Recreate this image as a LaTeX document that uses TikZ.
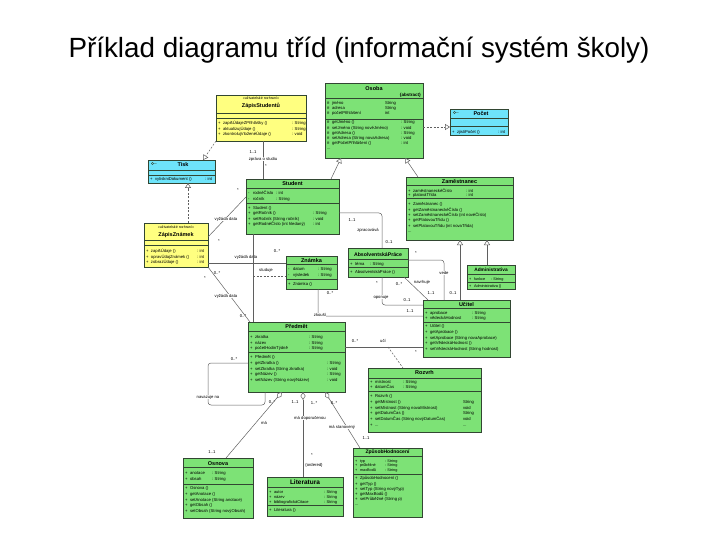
\documentclass[tikz,border=0pt]{standalone}
\usepackage{fontspec}
\setmainfont{Liberation Sans}
\usetikzlibrary{arrows.meta}
\definecolor{ugreen}{RGB}{125,226,118}
\definecolor{uyellow}{RGB}{255,255,128}
\definecolor{ucyan}{RGB}{110,228,250}
\definecolor{uborder}{RGB}{50,70,50}
\definecolor{uline}{RGB}{95,95,95}
\newcommand\umlbox[6]{\node[#2, minimum width={#5-#3}, minimum height={#6-#4}] (#1) at (#3,#4) {};}
\newcommand\hsep[2]{\draw[sepl] (#1.west |- 0,#2) -- (#1.east |- 0,#2);}
\newcommand\tc[3]{\makebox[#1pt][l]{#2}#3}
\newcommand\mk[1]{\makebox[5pt][l]{#1}}
\newcommand\fs{\rule{0pt}{3.9pt}}
\tikzset{
  cls/.style={draw=uborder, line width=0.7pt, anchor=north west, inner sep=0pt, outer sep=0pt},
  gcls/.style={cls, fill=ugreen},
  ycls/.style={cls, fill=uyellow},
  ccls/.style={cls, fill=ucyan},
  sepl/.style={draw=uborder, line width=0.5pt},
  ttl/.style={font=\fontsize{5.5}{6}\selectfont\bfseries, inner sep=0pt},
  stereo/.style={font=\fontsize{3.6}{4}\selectfont, inner sep=0pt},
  txt/.style={inner sep=0pt, outer sep=0pt, anchor=north west, align=left, font=\fontsize{4.2}{#1}\selectfont},
  txt/.default=5.5,
  lbl/.style={font=\fontsize{4.2}{4.5}\selectfont, inner sep=0.4pt},
  lblw/.style={lbl, fill=white},
  assoc/.style={draw=uline, line width=0.5pt, rounded corners=3pt},
  dsh/.style={dash pattern=on 2pt off 1.5pt},
  gen/.style={assoc, -{Triangle[fill=white, length=5pt, width=6pt]}},
  realz/.style={gen, dsh},
  agg/.style={assoc, {Diamond[fill=white, length=8pt, width=5pt]}-},
}
\begin{document}
\begin{tikzpicture}[x=1pt, y=-1pt]
\useasboundingbox (0,0) rectangle (720,540);
\node[font=\fontsize{27.8}{32}\selectfont, anchor=base, inner sep=0pt] (title) at (359,58) {Příklad diagramu tříd (informační systém školy)};

% ---------- ZapisStudentu
\umlbox{zs}{ycls}{216}{95}{306}{141}
\node[stereo] (zs-s) at (261,98.5) {<<uživatelské rozhraní>>};
\node[ttl] (zs-t) at (261,106) {ZápisStudentů};
\hsep{zs}{113}\hsep{zs}{118}
\node[txt=5.5] (zs-m) at (218,121) {\fs\tc{74}{\mk{+}zapišÚdajeZPřihlášky ()}{: String}\\\tc{74}{\mk{+}aktualizujÚdaje ()}{: String}\\\tc{74}{\mk{+}zkontrolujVloženéÚdaje ()}{: void}};

% ---------- Osoba
\umlbox{osoba}{gcls}{325}{83}{423}{158}
\node[ttl] (os-t) at (374,88.5) {Osoba};
\node[ttl, anchor=east, font=\fontsize{4.5}{5}\selectfont\bfseries] (os-ab) at (421,95) {\{abstract\}};
\hsep{osoba}{98.5}\hsep{osoba}{119}
\node[txt=5] (os-a) at (327,100.7) {\fs\tc{58}{\mk{\#}jméno}{String}\\\tc{58}{\mk{\#}adresa}{String}\\\tc{58}{\mk{\#}početPřihlášení}{int}};
\node[txt=5.2] (os-m) at (327,120) {\fs\tc{74}{\mk{\#}getJméno ()}{: String}\\\tc{74}{\mk{\#}setJméno (String novéJméno)}{: void}\\\tc{74}{\mk{\#}getAdresa ()}{: String}\\\tc{74}{\mk{\#}setAdresa (String novaAdresa)}{: void}\\\tc{74}{\mk{\#}getPočetPřihlášení ()}{: int}\\...};

% ---------- Pocet
\umlbox{pocet}{ccls}{450}{109}{508}{135.5}
\draw[uborder, line width=0.4pt] (454.5,112.5) circle (1.2) (455.7,112.5) -- (458.5,112.5);
\node[ttl] (pc-t) at (481,113) {Počet};
\hsep{pocet}{118.3}\hsep{pocet}{126.7}
\node[txt] (pc-m) at (452,129.4) {\fs\tc{46}{\mk{+}zjistiPočet ()}{: int}};

% ---------- Tisk
\umlbox{tisk}{ccls}{148}{160}{215}{183}
\draw[uborder, line width=0.4pt] (152.5,163.5) circle (1.2) (153.7,163.5) -- (156.5,163.5);
\node[ttl] (ts-t) at (183,165) {Tisk};
\hsep{tisk}{170.5}\hsep{tisk}{175}
\node[txt] (ts-m) at (150,176.7) {\fs\tc{55}{\mk{+}vytiskniDokument ()}{: int}};

% ---------- Student
\umlbox{student}{gcls}{246}{179}{339}{234}
\node[ttl] (st-t) at (292.5,184) {Student};
\hsep{student}{188.5}\hsep{student}{203}
\node[txt=5.7] (st-a) at (248,191) {\fs\tc{28}{\mk{-}rodnéČíslo}{: int}\\\tc{28}{\mk{-}ročník}{: String}};
\node[txt=5.5] (st-m) at (248,205.4) {\fs\mk{+}Student ()\\\tc{65}{\mk{+}getRočník ()}{: String}\\\tc{65}{\mk{+}setRočník (String ročník)}{: void}\\\tc{65}{\mk{+}getRodnéČíslo (int hledaný)}{: int}};

% ---------- Zamestnanec
\umlbox{zam}{gcls}{406}{177}{513}{240}
\node[ttl] (zm-t) at (459.5,181) {Zaměstnanec};
\hsep{zam}{185}\hsep{zam}{198.5}
\node[txt=4.6] (zm-a) at (408,188.4) {\fs\tc{58}{\mk{+}zaměstnaneckéČíslo}{: int}\\\tc{58}{\mk{+}platováTřída}{: int}};
\node[txt=5.35] (zm-m) at (408,202) {\fs\mk{+}Zaměstnanec ()\\\mk{+}getZaměstnaneckéČíslo ()\\\mk{+}setZaměstnaneckéČíslo (int novéČíslo)\\\mk{+}getPlatovouTřídu ()\\\mk{+}setPlatovouTřídu (int novaTřída)\\...};

% ---------- ZapisZnamek
\umlbox{zz}{ycls}{144}{223}{208}{267}
\node[stereo] (zz-s) at (176,227.5) {<<uživatelské rozhraní>>};
\node[ttl] (zz-t) at (176,235) {ZápisZnámek};
\hsep{zz}{240.5}\hsep{zz}{245}
\node[txt=5.5] (zz-m) at (146,248.7) {\fs\tc{51}{\mk{+}zapišÚdaje ()}{: int}\\\tc{51}{\mk{+}opravÚdajZnámek ()}{: int}\\\tc{51}{\mk{+}zobrazÚdaje ()}{: int}};

% ---------- Znamka
\umlbox{znamka}{gcls}{286}{256}{337}{289}
\node[ttl] (zn-t) at (311.5,260.5) {Známka};
\hsep{znamka}{264.5}\hsep{znamka}{279}
\node[txt=5.4] (zn-a) at (288,266.7) {\fs\tc{30}{\mk{-}datum}{: String}\\\tc{30}{\mk{-}výsledek}{: String}};
\node[txt] (zn-m) at (288,281.2) {\fs\mk{+}Známka ()};

% ---------- AbsolventskaPrace
\umlbox{ap}{gcls}{348}{248}{408}{277}
\node[ttl, font=\fontsize{5.2}{6}\selectfont\bfseries] (ap-t) at (378,254.5) {AbsolventskáPráce};
\hsep{ap}{259.5}\hsep{ap}{267.5}
\node[txt] (ap-a) at (350,261.7) {\fs\tc{20}{\mk{+}téma}{: String}};
\node[txt] (ap-m) at (350,269.7) {\fs\mk{+}AbsolventskáPráce ()};

% ---------- Administrativa
\umlbox{admin}{gcls}{467}{265}{515}{289}
\node[ttl, font=\fontsize{4.8}{5}\selectfont\bfseries] (ad-t) at (491,270) {Administrativa};
\hsep{admin}{274.5}\hsep{admin}{282.5}
\node[txt, font=\fontsize{3.8}{5}\selectfont] (ad-a) at (469,276.2) {\fs\tc{22}{\mk{+}funkce}{: String}};
\node[txt, font=\fontsize{3.8}{5}\selectfont] (ad-m) at (469,283.7) {\fs\mk{+}Administrativa ()};

% ---------- Ucitel
\umlbox{ucitel}{gcls}{423}{300}{510}{357}
\node[ttl] (uc-t) at (466.5,304) {Učitel};
\hsep{ucitel}{308.5}\hsep{ucitel}{322}
\node[txt=5.6] (uc-a) at (425,310.4) {\fs\tc{47}{\mk{+}aprobace}{: String}\\\tc{47}{\mk{+}vědeckáHodnost}{: String}};
\node[txt=5.7] (uc-m) at (425,323.7) {\fs\mk{+}Učitel ()\\\mk{+}getAprobace ()\\\mk{+}setAprobace (String novaAprobace)\\\mk{+}getVědeckáHodnost ()\\\mk{+}setVědeckáHodnost (String hodnost)};

% ---------- Predmet
\umlbox{predmet}{gcls}{248}{322}{345}{392}
\node[ttl] (pr-t) at (296.5,326.5) {Předmět};
\hsep{predmet}{331.5}\hsep{predmet}{352.5}
\node[txt=5.8] (pr-a) at (250,334.4) {\fs\tc{59}{\mk{+}zkratka}{: String}\\\tc{59}{\mk{+}název}{: String}\\\tc{59}{\mk{+}početHodinTýdně}{: String}};
\node[txt=5.85] (pr-m) at (250,354.4) {\fs\mk{+}Předmět ()\\\tc{77}{\mk{+}getZkratka ()}{: String}\\\tc{77}{\mk{+}setZkratka (String zkratka)}{: void}\\\tc{77}{\mk{+}getNázev ()}{: String}\\\tc{77}{\mk{+}setNázev (String novýNázev)}{: void}};

% ---------- Rozvrh
\umlbox{rozvrh}{gcls}{368}{368}{481}{432}
\node[ttl] (rz-t) at (424.5,373) {Rozvrh};
\hsep{rozvrh}{378}\hsep{rozvrh}{391.5}
\node[txt=5] (rz-a) at (370,380) {\fs\tc{33}{\mk{+}místnost}{: String}\\\tc{33}{\mk{+}datumČas}{: String}};
\node[txt=5.85] (rz-m) at (370,393.4) {\fs\mk{+}Rozvrh ()\\\tc{93}{\mk{+}getMístnost ()}{String}\\\tc{93}{\mk{+}setMístnost (String novaMístnost)}{void}\\\tc{93}{\mk{+}getDatumČas ()}{String}\\\tc{93}{\mk{+}setDatumČas (String novýDatumČas)}{void}\\\tc{93}{\mk{+}...}{...}};

% ---------- Osnova
\umlbox{osnova}{gcls}{183}{458}{253}{518}
\node[ttl] (on-t) at (218,463.5) {Osnova};
\hsep{osnova}{467.5}\hsep{osnova}{484}
\node[txt=6] (on-a) at (185,471) {\fs\tc{27}{\mk{+}anotace}{: String}\\\tc{27}{\mk{+}obsah}{: String}};
\node[txt=5.6] (on-m) at (185,486) {\fs\mk{+}Osnova ()\\\mk{+}getAnotace ()\\\mk{+}setAnotace (String anotace)\\\mk{+}getObsah ()\\\mk{+}setObsah (String novýObsah)};

% ---------- Literatura
\umlbox{lit}{gcls}{267}{477}{343}{516}
\node[ttl, font=\fontsize{6.5}{7}\selectfont\bfseries] (li-t) at (305,482.5) {Literatura};
\hsep{lit}{487.5}\hsep{lit}{505.5}
\node[txt=4.7, font=\fontsize{4}{4.7}\selectfont] (li-a) at (269,490) {\fs\tc{55}{\mk{+}autor}{: String}\\\tc{55}{\mk{+}název}{: String}\\\tc{55}{\mk{+}bibliografickáCitace}{: String}};
\node[txt] (li-m) at (269,507.7) {\fs\mk{+}Literatura ()};

% ---------- ZpusobHodnoceni
\umlbox{zh}{gcls}{353}{448}{422}{517}
\node[ttl, font=\fontsize{5}{5}\selectfont\bfseries] (zh-t) at (387.5,452.5) {ZpůsobHodnocení};
\hsep{zh}{456.7}\hsep{zh}{474}
\node[txt=4.4, font=\fontsize{3.8}{4.4}\selectfont] (zh-a) at (355,458.6) {\fs\tc{30}{\mk{+}typ}{: String}\\\tc{30}{\mk{+}průběžné}{: String}\\\tc{30}{\mk{+}maxBodů}{: String}};
\node[txt=5.1] (zh-m) at (355,476) {\fs\mk{+}ZpůsobHodnocení ()\\\mk{+}getTyp ()\\\mk{+}setTyp (String novýTyp)\\\mk{+}getMaxBodů ()\\\mk{+}setPrůběžné (String p)\\...};

% ================= connectors
\draw[realz] (zs.south west) -- ([xshift=-12pt]tisk.north east);
\draw[realz] (188,0 |- zz.north) -- (188,0 |- tisk.south);
\draw[realz] (osoba.east |- 0,127) -- (pocet.west |- 0,127);
\draw[gen] (331,0 |- student.north) -- (341,0 |- osoba.south);
\draw[gen] (418,0 |- zam.north) -- (405,0 |- osoba.south);
\draw[gen] (460,0 |- ucitel.north) -- (460,0 |- zam.south);
\draw[gen] (487,0 |- admin.north) -- (487,0 |- zam.south);

\draw[assoc] (263,0 |- zs.south) -- (263,0 |- student.north);
\node[lbl] (c1a) at (253,152) {1..1};
\node[lblw] (c1b) at (263,159) {zpráva o studiu};
\node[lbl] (c1c) at (266,166) {*};

\draw[assoc] (zz.east |- 0,237) -- (student.west |- 0,197);
\node[lbl] (c2a) at (238,190) {*};
\node[lblw] (c2b) at (226,219) {vyžádá data};
\node[lbl] (c2c) at (219,241) {*};

\draw[assoc] (zz.east |- 0,263) -- (znamka.west |- 0,263);
\node[lbl] (c3a) at (246,257) {vyžádá data};
\node[lbl] (c3b) at (277,251) {0..*};

\draw[assoc] (zz.south east) -- ([xshift=2pt]predmet.north west);
\node[lbl] (c4a) at (217,273) {0..*};
\node[lbl] (c4b) at (205,278) {*};
\node[lblw] (c4c) at (226,296) {vyžádá data};
\node[lbl] (c4d) at (243,316) {0..*};

\draw[assoc] (253,0 |- student.south) -- (253,0 |- predmet.north);
\coordinate (studmid) at (253,276);
\draw[assoc, dsh] (studmid) -- (znamka.west |- studmid);
\node[lbl] (c5a) at (266,270) {studuje};

\draw[assoc] (318,0 |- znamka.south) -- (318,316) -- (ucitel.west |- 0,316);
\node[lbl] (c6a) at (330,293) {0..*};
\node[lblw] (c6b) at (320,315) {zkouší};
\node[lbl] (c6c) at (410,311) {1..1};

\draw[assoc] (student.east |- 0,213) -- (382,213) -- (382,0 |- ap.north);
\node[lbl] (c7a) at (352,220) {1..1};
\node[lbl] (c7b) at (368,230) {zpracovává};
\node[lbl] (c7c) at (389,242) {0..1};

\draw[assoc] (ap.east |- 0,260) -- (444,260) -- (444,0 |- ucitel.north);
\node[lbl] (c8a) at (416,253) {*};
\node[lblw] (c8b) at (444,273) {vede};
\node[lbl] (c8c) at (453,293) {0..1};

\draw[assoc] ([xshift=-4pt]ap.south east) -- ([xshift=5pt]ucitel.north west);
\node[lbl] (c9a) at (399,284) {0..*};
\node[lbl] (c9b) at (422,282) {navrhuje};
\node[lbl] (c9c) at (431,293) {1..1};

\draw[assoc] (382,0 |- ap.south) -- (382,305) -- (ucitel.west |- 0,305);
\node[lbl] (c10a) at (377,283) {*};
\node[lblw] (c10b) at (381,297) {oponuje};
\node[lbl] (c10c) at (407,300) {0..1};

\draw[assoc] (predmet.east |- 0,347) -- (ucitel.west |- 0,347);
\node[lbl] (c11a) at (355,341) {0..*};
\node[lbl] (c11b) at (383,341) {učí};
\node[lbl] (c11c) at (416,352) {*};
\coordinate (ucimid) at (388,347);
\draw[assoc, dsh] (ucimid) -- (403,0 |- rozvrh.north);

\draw[assoc] (predmet.west |- 0,363) -- (208,363) -- (208,405) -- (265,405) -- (265,0 |- predmet.south);
\node[lbl] (c12a) at (234,359) {0..*};
\node[lblw] (c12b) at (208,397) {navazuje na};
\node[lbl] (c12c) at (272,402) {0..*};

\draw[agg] (282,0 |- predmet.south) -- (226,0 |- osnova.north);
\node[lbl] (c13a) at (264,423) {má};
\node[lbl] (c13b) at (212,452) {1..1};

\draw[agg] (303,0 |- predmet.south) -- (303,0 |- lit.north);
\node[lbl] (c14a) at (295,402) {1..1};
\node[lbl] (c14b) at (314,403) {1..*};
\node[lblw] (c14c) at (310,418) {má doporučenou};
\node[lbl] (c14d) at (312,455) {*};
\node[lbl] (c14e) at (314,465) {\{ordered\}};

\draw[agg] (325,0 |- predmet.south) -- (360,0 |- zh.north);
\node[lbl] (c15a) at (334,403) {0..*};
\node[lblw] (c15b) at (342,427) {má stanovený};
\node[lbl] (c15c) at (366,438) {1..1};
\end{tikzpicture}
\end{document}
